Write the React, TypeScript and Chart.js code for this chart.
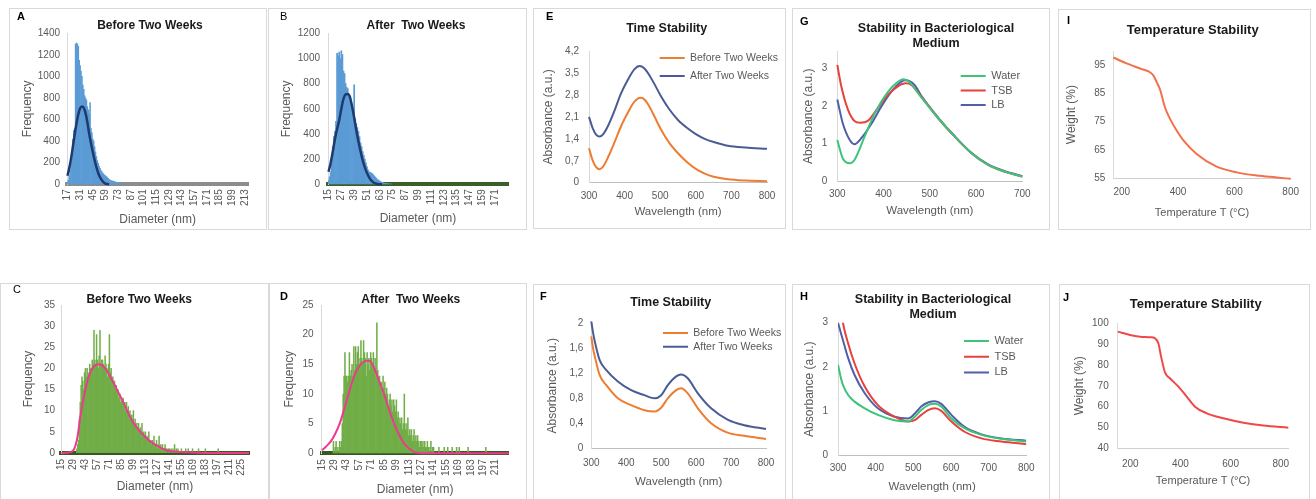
import React, { useEffect, useRef } from 'react';
import { Chart, registerables } from 'chart.js';

Chart.register(...registerables);

const FONT = "'Liberation Sans', Arial, Helvetica, sans-serif";
const GREY = '#595959';

// ---------- A : Before Two Weeks (histogram) ----------
const A_START = 17;
const A_FREQ = [20, 40, 80, 130, 200, 300, 420, 500, 520, 1300, 1310, 1300, 1280, 1150, 1100, 1050, 1000, 920, 880, 820, 800, 780, 720, 690, 650, 757, 520, 480, 420, 400, 350, 300, 256, 220, 195, 170, 148, 130, 115, 105, 95, 85, 78, 71, 62, 55, 46, 40, 36, 32, 29, 27, 25, 20, 16, 13, 11, 9, 8, 6, 5, 4, 3, 2];
const A_FIT_X = [17, 19, 21, 23, 25, 27, 29, 31, 33, 35, 37, 39, 41, 43, 45, 47, 49, 51, 53, 55, 57, 59, 61, 63];
const A_FIT_Y = [80, 150, 240, 350, 460, 565, 650, 705, 722, 710, 660, 575, 470, 380, 300, 225, 160, 105, 65, 38, 18, 7, 2, 0];
const A_XTICKS = [17, 31, 45, 59, 73, 87, 101, 115, 129, 143, 157, 171, 185, 199, 213];
const A_YTICKS = [0, 200, 400, 600, 800, 1000, 1200, 1400];

// ---------- B : After Two Weeks (histogram) ----------
const B_START = 15;
const B_FREQ = [30, 60, 100, 200, 300, 380, 420, 500, 1040, 1020, 1050, 1000, 1060, 1030, 900, 880, 800, 770, 760, 700, 690, 650, 640, 600, 790, 520, 480, 450, 420, 380, 330, 300, 260, 230, 200, 170, 140, 115, 100, 95, 90, 85, 75, 65, 55, 45, 38, 32, 26, 20, 16, 12, 10, 8, 6, 5, 4, 3, 2, 1];
const B_FIT_X = [15, 17, 19, 21, 23, 25, 27, 29, 31, 33, 35, 37, 39, 41, 43, 45, 47, 49, 51, 53, 55, 57, 59, 61, 63, 65];
const B_FIT_Y = [100, 170, 260, 360, 440, 510, 600, 680, 715, 718, 695, 620, 530, 430, 340, 260, 190, 135, 90, 55, 30, 15, 7, 3, 1, 0];
const B_XTICKS = [15, 27, 39, 51, 63, 75, 87, 99, 111, 123, 135, 147, 159, 171];
const B_YTICKS = [0, 200, 400, 600, 800, 1000, 1200];

// ---------- C : Before Two Weeks (histogram) ----------
const C_START = 33;
const C_FREQ = [
  1, 2, 3, 8, 12, 16, 18, 17, 15, 19,
  20, 18, 20, 19, 17, 21, 20, 19, 22, 21,
  29, 22, 21, 28, 22, 20, 23, 29, 21, 22,
  22, 21, 20, 23, 21, 20, 18, 21, 28, 19,
  20, 17, 18, 16, 17, 15, 16, 14, 15, 13,
  14, 12, 13, 12, 13, 11, 12, 10, 12, 10,
  11, 9, 10, 8, 9, 8, 10, 7, 8, 6,
  7, 6, 7, 5, 6, 5, 7, 4, 5, 4,
  5, 3, 4, 3, 5, 3, 3, 2, 3, 2,
  4, 2, 2, 3, 1, 2, 4, 1, 2, 1,
  2, 1, 1, 2, 1, 1, 0, 1, 1, 0,
  1, 0, 1, 0, 2, 0, 1, 0, 1, 0,
  0, 0, 1, 0, 0, 0, 0, 1, 0, 0,
  1, 0, 0, 0, 0, 1, 0, 0, 0, 0,
  0, 0, 1, 0, 0, 0, 0, 0, 0, 0,
  1, 0, 0, 0, 0, 0, 0, 0, 0, 0,
  0, 0, 0, 0, 0, 1,
];
const C_FIT_X = [15, 22, 27, 30, 33, 35, 37, 40, 43, 46, 49, 53, 58, 62, 66, 70, 76, 81, 86, 91, 97, 103, 109, 117, 125, 132, 140, 150, 163, 175, 190, 234];
const C_FIT_Y = [0, 0.1, 0.3, 1, 3, 5.5, 8.6, 12, 15, 17.5, 19.2, 20.5, 21, 20.8, 20, 18.8, 16.5, 14.5, 12.5, 10.3, 7.8, 6, 4.6, 3, 1.9, 1.1, 0.55, 0.3, 0.15, 0.05, 0, 0];
const C_XTICKS = [15, 29, 43, 57, 71, 85, 99, 113, 127, 141, 155, 169, 183, 197, 211, 225];
const C_YTICKS = [0, 5, 10, 15, 20, 25, 30, 35];

// ---------- D : After Two Weeks (histogram) ----------
const D_START = 27;
const D_FREQ = [
  0, 2, 0, 1, 2, 0, 1, 0, 2, 1, 2, 5,
  10, 13, 17, 13, 13, 12, 13, 17, 13, 14,
  15, 13, 18, 14, 18, 15, 17, 18, 15, 16,
  19, 16, 15, 19, 17, 16, 13, 17, 15, 16,
  14, 17, 16, 15, 17, 14, 16, 13, 22, 14,
  12, 13, 11, 12, 10, 13, 11, 12, 10, 11,
  10, 8, 9, 10, 8, 9, 7, 9, 8, 7,
  9, 6, 7, 5, 6, 5, 6, 4, 5, 10,
  4, 5, 4, 6, 3, 4, 3, 4, 2, 3,
  4, 2, 3, 2, 3, 2, 1, 2, 2, 1,
  2, 1, 2, 1, 1, 2, 1, 0, 1, 2,
  0, 1, 1, 0, 0, 0, 0, 0, 1, 0,
  0, 0, 0, 0, 1, 0, 0, 0, 1, 0,
  0, 0, 0, 1, 0, 0, 0, 0, 1, 0,
  0, 1, 0, 0, 0, 0, 0, 0, 0, 0,
  0, 1, 0, 0, 0, 0, 0, 0, 0, 0,
  0, 0, 0, 0, 0, 0, 0, 0, 0, 0,
  0, 1,
];
const D_FIT_X = [15, 20, 25, 30, 35, 40, 45, 50, 55, 60, 65, 68, 72, 76, 80, 85, 90, 95, 100, 105, 110, 115, 120, 125, 130, 226];
const D_FIT_Y = [0.5, 1.2, 2, 3.3, 5, 7.4, 10, 12.4, 14.2, 15.2, 15.6, 15.6, 15, 13.6, 12, 10, 7.7, 5.6, 3.8, 2.3, 1.3, 0.6, 0.2, 0.05, 0, 0];
const D_XTICKS = [15, 29, 43, 57, 71, 85, 99, 113, 127, 141, 155, 169, 183, 197, 211];
const D_YTICKS = [0, 5, 10, 15, 20, 25];

// ---------- E : Time Stability ----------
const E_X_BEFORE = [300, 310, 320, 330, 340, 355, 372, 390, 410, 425, 438, 445, 452, 465, 480, 503, 525, 550, 575, 600, 625, 650, 690, 740, 800];
const E_Y_BEFORE = [1.1, 0.72, 0.5, 0.43, 0.52, 0.85, 1.3, 1.8, 2.25, 2.55, 2.69, 2.71, 2.69, 2.52, 2.2, 1.68, 1.28, 0.94, 0.66, 0.44, 0.29, 0.19, 0.11, 0.07, 0.05];
const E_X_AFTER = [300, 310, 320, 330, 340, 355, 370, 390, 410, 428, 442, 455, 470, 485, 503, 525, 550, 575, 600, 625, 650, 690, 740, 800];
const E_Y_AFTER = [2.1, 1.75, 1.53, 1.47, 1.55, 1.85, 2.25, 2.85, 3.3, 3.62, 3.72, 3.65, 3.42, 3.12, 2.74, 2.35, 2.0, 1.75, 1.55, 1.4, 1.3, 1.18, 1.12, 1.08];
const E_YTICKS = [0, 0.7, 1.4, 2.1, 2.8, 3.5, 4.2];
const WL_TICKS = [300, 400, 500, 600, 700, 800];

// ---------- F : Time Stability ----------
const F_X = [300, 305, 310, 324, 343, 376, 414, 452, 481, 500, 519, 543, 557, 576, 605, 643, 690, 738, 800];
const F_Y_BEFORE = [1.79, 1.6, 1.47, 1.17, 1.01, 0.8, 0.69, 0.61, 0.59, 0.65, 0.8, 0.93, 0.96, 0.88, 0.64, 0.4, 0.25, 0.2, 0.15];
const F_Y_AFTER = [2.03, 1.85, 1.71, 1.41, 1.25, 1.07, 0.93, 0.85, 0.8, 0.85, 1.01, 1.15, 1.18, 1.12, 0.88, 0.64, 0.46, 0.37, 0.31];
const F_YTICKS = [0, 0.4, 0.8, 1.2, 1.6, 2];

// ---------- G : Stability in Bacteriological Medium ----------
const G_X_WATER = [300, 312, 327, 337, 359, 381, 410, 431, 442, 453, 482, 518, 554, 590, 626, 662, 700];
const G_Y_WATER = [1.09, 0.6, 0.47, 0.56, 1.18, 1.8, 2.38, 2.64, 2.71, 2.66, 2.22, 1.67, 1.18, 0.74, 0.43, 0.25, 0.12];
const G_X_TSB = [300, 309, 323, 337, 350, 366, 388, 410, 431, 448, 460, 482, 518, 554, 590, 626, 662, 700];
const G_Y_TSB = [3.09, 2.5, 1.9, 1.6, 1.55, 1.6, 1.95, 2.3, 2.52, 2.6, 2.56, 2.24, 1.67, 1.18, 0.74, 0.43, 0.25, 0.12];
const G_X_LB = [300, 312, 327, 337, 352, 374, 395, 417, 438, 447, 467, 482, 518, 554, 590, 626, 662, 700];
const G_Y_LB = [2.17, 1.53, 1.09, 0.98, 1.14, 1.53, 1.98, 2.38, 2.64, 2.68, 2.56, 2.26, 1.69, 1.19, 0.75, 0.44, 0.26, 0.13];
const G_XTICKS = [300, 400, 500, 600, 700];
const G_YTICKS = [0, 1, 2, 3];

// ---------- H : Stability in Bacteriological Medium ----------
const H_X = [300, 309, 313, 327, 344, 371, 406, 450, 486, 504, 521, 539, 557, 574, 601, 636, 681, 734, 800];
const H_Y_WATER = [2.05, 1.71, 1.6, 1.37, 1.22, 1.07, 0.92, 0.8, 0.77, 0.88, 1.03, 1.14, 1.17, 1.11, 0.84, 0.62, 0.47, 0.38, 0.32];
const H_Y_TSB = [3.8, 3.25, 3.0, 2.53, 2.08, 1.56, 1.14, 0.88, 0.77, 0.8, 0.92, 1.03, 1.07, 1.01, 0.77, 0.54, 0.39, 0.32, 0.26];
const H_Y_LB = [3.0, 2.73, 2.61, 2.2, 1.82, 1.41, 1.07, 0.88, 0.84, 0.95, 1.11, 1.2, 1.23, 1.17, 0.92, 0.65, 0.48, 0.39, 0.34];
const H_YTICKS = [0, 1, 2, 3];

// ---------- I / J : Temperature Stability ----------
const I_X = [170, 217, 265, 295, 312, 325, 336, 353, 371, 395, 419, 466, 537, 608, 679, 750, 800];
const I_Y = [97.7, 95.6, 93.8, 92.8, 91.4, 88.8, 86.4, 80.2, 76.1, 71.9, 68.4, 63.6, 59.1, 57.1, 56.0, 55.3, 54.8];
const J_X = [150, 199, 239, 279, 299, 312, 323, 339, 358, 392, 425, 458, 505, 571, 651, 730, 830];
const J_Y = [96, 94.4, 93.6, 93.3, 92.8, 90.4, 84, 76.3, 73.6, 69.6, 64.8, 60, 56.8, 54.4, 52.3, 50.9, 49.9];
const T_XTICKS = [200, 400, 600, 800];
const I_YTICKS = [55, 65, 75, 85, 95];
const J_YTICKS = [40, 50, 60, 70, 80, 90, 100];

// ---------- colours ----------
const HIST_BLUE = '#5b9bd5';
const HIST_GREEN = '#70ad47';
const NAVY = '#1f3a6e';
const PINK = '#ec3b8e';
const ORANGE = '#ed7d31';
const SLATE = '#4b5c94';
const WATER = '#3cc47a';
const TSB = '#e8403a';
const LB = '#4f5fa8';

const lineDs = (label: string, xs: number[], ys: number[], color: string, width = 2, clip: any = 3) => ({
  type: 'line',
  label,
  data: xs.map((x, i) => ({ x, y: ys[i] })),
  borderColor: color,
  backgroundColor: color,
  borderWidth: width,
  pointRadius: 0,
  pointHoverRadius: 0,
  pointBorderWidth: width,
  pointBorderColor: color,
  pointBackgroundColor: color,
  cubicInterpolationMode: 'monotone',
  fill: false,
  clip,
  order: 0,
});

const barDs = (start: number, vals: number[], color: string) => ({
  type: 'bar',
  label: 'Frequency',
  data: vals.map((y, i) => ({ x: start + i, y })),
  backgroundColor: color,
  borderWidth: 0,
  barPercentage: 1,
  categoryPercentage: 1,
  order: 1,
});

const plainFmt = (v: any) => String(v);
const commaFmt = (v: any) => {
  const n = Number(v);
  return Number.isInteger(n) ? String(n) : n.toFixed(1).replace('.', ',');
};

// positions the title block and the in-plot legend after Chart.js has laid out the chart
const placer = {
  id: 'placer',
  afterLayout(chart: any, _args: any, opts: any) {
    if (!opts) return;
    const tb = chart.titleBlock;
    if (tb && opts.titleX != null) {
      tb.left = opts.titleX - 150;
      tb.right = opts.titleX + 150;
      tb.width = 300;
    }
    const lg = chart.legend;
    if (lg && opts.legend) {
      const L = opts.legend;
      lg.left = L.x - L.pad;
      lg.top = L.y - L.pad - L.size / 2;
      lg.right = lg.left + 230;
      lg.bottom = lg.top + 170;
    }
  },
};

const PANELS: any[] = [
  {
    id: 'A', kind: 'bar', box: [9, 8, 258, 222], plot: [67, 33.3, 248.3, 184.3],
    letter: { t: 'A', x: 17, y: 12, bold: true },
    title: { text: 'Before Two Weeks', x: 150, y: 26, size: 12 },
    yTitle: { text: 'Frequency', x: 28, size: 12 },
    xTitle: { text: 'Diameter (nm)', y: 220, size: 12 },
    x: { min: 16.5, max: 216.8, ticks: A_XTICKS, rotate: true, pad: 5, color: '#8c8c8c', width: 4 },
    y: { min: 0, max: 1400, ticks: A_YTICKS, pad: 7, fmt: plainFmt },
    datasets: [lineDs('Fit', A_FIT_X, A_FIT_Y, NAVY, 2.5), barDs(A_START, A_FREQ, HIST_BLUE)],
  },
  {
    id: 'B', kind: 'bar', box: [268, 8, 259, 222], plot: [328, 33.3, 508, 184.3],
    letter: { t: 'B', x: 280, y: 12, bold: false },
    title: { text: 'After  Two Weeks', x: 416, y: 26, size: 12 },
    yTitle: { text: 'Frequency', x: 286.3, size: 12 },
    xTitle: { text: 'Diameter (nm)', y: 218.3, size: 12 },
    x: { min: 14.5, max: 183, ticks: B_XTICKS, rotate: true, pad: 5, color: '#3a5f27', width: 4 },
    y: { min: 0, max: 1200, ticks: B_YTICKS, pad: 8, fmt: plainFmt },
    datasets: [lineDs('Fit', B_FIT_X, B_FIT_Y, NAVY, 2.5), barDs(B_START, B_FREQ, HIST_BLUE)],
  },
  {
    id: 'E', kind: 'line', box: [533, 8, 253, 221], plot: [589, 51, 767, 182.7],
    letter: { t: 'E', x: 546, y: 12, bold: true },
    title: { text: 'Time Stability', x: 666.7, y: 28.3, size: 12.5 },
    yTitle: { text: 'Absorbance (a.u.)', x: 548.7, size: 12 },
    xTitle: { text: 'Wavelength (nm)', y: 211.7, size: 11.5 },
    x: { min: 300, max: 800, ticks: WL_TICKS, rotate: false, pad: 8, color: '#bfbfbf', width: 1 },
    y: { min: 0, max: 4.2, ticks: E_YTICKS, pad: 10, fmt: commaFmt },
    legend: { x: 659.7, y: 58, gap: 18, size: 10.5 },
    datasets: [
      lineDs('Before Two Weeks', E_X_BEFORE, E_Y_BEFORE, ORANGE),
      lineDs('After Two Weeks', E_X_AFTER, E_Y_AFTER, SLATE),
    ],
  },
  {
    id: 'G', kind: 'line', box: [792, 8, 258, 222], plot: [837.3, 51.4, 1022.3, 181],
    letter: { t: 'G', x: 800, y: 17, bold: true },
    title: { text: ['Stability in Bacteriological', 'Medium'], x: 936, y: 28.3, size: 12.5 },
    yTitle: { text: 'Absorbance (a.u.)', x: 808.7, size: 12 },
    xTitle: { text: 'Wavelength (nm)', y: 210.7, size: 11.5 },
    x: { min: 300, max: 700, ticks: G_XTICKS, rotate: false, pad: 7, color: '#bfbfbf', width: 1 },
    y: { min: 0, max: 3.45, ticks: G_YTICKS, pad: 10, fmt: plainFmt },
    legend: { x: 960.7, y: 76, gap: 14.5, size: 11 },
    datasets: [
      lineDs('Water', G_X_WATER, G_Y_WATER, WATER),
      lineDs('TSB', G_X_TSB, G_Y_TSB, TSB),
      lineDs('LB', G_X_LB, G_Y_LB, LB),
    ],
  },
  {
    id: 'I', kind: 'line', box: [1058, 9, 253, 221], plot: [1113.3, 51, 1290.7, 178.3],
    letter: { t: 'I', x: 1067, y: 16, bold: true },
    title: { text: 'Temperature Stability', x: 1192.7, y: 30, size: 13 },
    yTitle: { text: 'Weight (%)', x: 1071.7, size: 12 },
    xTitle: { text: 'Temperature T (°C)', y: 213.3, size: 11 },
    x: { min: 170, max: 800, ticks: T_XTICKS, rotate: false, pad: 8, color: '#d0d0d0', width: 1 },
    y: { min: 55, max: 100, ticks: I_YTICKS, pad: 8, fmt: plainFmt },
    datasets: [lineDs('Weight', I_X, I_Y, '#f2704a')],
  },
  {
    id: 'C', kind: 'bar', box: [0, 283, 269, 220], plot: [61, 305, 249, 453],
    letter: { t: 'C', x: 13, y: 285, bold: false },
    title: { text: 'Before Two Weeks', x: 139.2, y: 300, size: 12 },
    yTitle: { text: 'Frequency', x: 28.3, size: 12 },
    xTitle: { text: 'Diameter (nm)', y: 486.7, size: 12 },
    x: { min: 14.5, max: 233.9, ticks: C_XTICKS, rotate: true, pad: 6, color: '#385723', width: 4 },
    y: { min: 0, max: 35, ticks: C_YTICKS, pad: 6, fmt: plainFmt },
    datasets: [lineDs('Fit', C_FIT_X, C_FIT_Y, PINK, 2), barDs(C_START, C_FREQ, HIST_GREEN)],
  },
  {
    id: 'D', kind: 'bar', box: [269, 283, 258, 220], plot: [321.5, 305, 508.7, 453.3],
    letter: { t: 'D', x: 280, y: 292, bold: true },
    title: { text: 'After  Two Weeks', x: 410.8, y: 300, size: 12 },
    yTitle: { text: 'Frequency', x: 289.7, size: 12 },
    xTitle: { text: 'Diameter (nm)', y: 489.3, size: 12 },
    x: { min: 14.5, max: 225.8, ticks: D_XTICKS, rotate: true, pad: 6, color: '#385723', width: 4 },
    y: { min: 0, max: 25, ticks: D_YTICKS, pad: 8, fmt: plainFmt },
    datasets: [lineDs('Fit', D_FIT_X, D_FIT_Y, PINK, 2), barDs(D_START, D_FREQ, HIST_GREEN)],
  },
  {
    id: 'F', kind: 'line', box: [533, 284, 253, 220], plot: [591.3, 323.3, 766, 448.3],
    letter: { t: 'F', x: 540, y: 292, bold: true },
    title: { text: 'Time Stability', x: 670.7, y: 302.7, size: 12.5 },
    yTitle: { text: 'Absorbance (a.u.)', x: 553, size: 12 },
    xTitle: { text: 'Wavelength (nm)', y: 481.7, size: 11.5 },
    x: { min: 300, max: 800, ticks: WL_TICKS, rotate: false, pad: 9, color: '#bfbfbf', width: 1 },
    y: { min: 0, max: 2, ticks: F_YTICKS, pad: 8, fmt: commaFmt },
    legend: { x: 663, y: 333, gap: 13.7, size: 10.5 },
    datasets: [
      lineDs('Before Two Weeks', F_X, F_Y_BEFORE, ORANGE),
      lineDs('After Two Weeks', F_X, F_Y_AFTER, SLATE),
    ],
  },
  {
    id: 'H', kind: 'line', box: [792, 284, 258, 220], plot: [838, 322.7, 1026.3, 455.7],
    letter: { t: 'H', x: 800, y: 292, bold: true },
    title: { text: ['Stability in Bacteriological', 'Medium'], x: 933, y: 300, size: 12.5 },
    yTitle: { text: 'Absorbance (a.u.)', x: 809.7, size: 12 },
    xTitle: { text: 'Wavelength (nm)', y: 487.3, size: 11.5 },
    x: { min: 300, max: 800, ticks: WL_TICKS, rotate: false, pad: 7, color: '#bfbfbf', width: 1 },
    y: { min: 0, max: 3, ticks: H_YTICKS, pad: 10, fmt: plainFmt },
    legend: { x: 964, y: 341, gap: 15.7, size: 11 },
    datasets: [
      lineDs('Water', H_X, H_Y_WATER, WATER, 2, 0),
      lineDs('TSB', H_X, H_Y_TSB, TSB, 2, 0),
      lineDs('LB', H_X, H_Y_LB, LB, 2, 0),
    ],
  },
  {
    id: 'J', kind: 'line', box: [1059, 284, 251, 220], plot: [1117.7, 323.3, 1288.3, 448.3],
    letter: { t: 'J', x: 1063, y: 293, bold: true },
    title: { text: 'Temperature Stability', x: 1195.7, y: 304, size: 13 },
    yTitle: { text: 'Weight (%)', x: 1079.3, size: 12 },
    xTitle: { text: 'Temperature T (°C)', y: 481, size: 11 },
    x: { min: 150, max: 830, ticks: T_XTICKS, rotate: false, pad: 10, color: '#d0d0d0', width: 1 },
    y: { min: 40, max: 100, ticks: J_YTICKS, pad: 9, fmt: plainFmt },
    datasets: [lineDs('Weight', J_X, J_Y, '#ef4848')],
  },
];

function geometry(s: any) {
  const cl = s.box[0] + 1;
  const ct = s.box[1] + 1;
  const cw = s.box[2] - 2;
  const ch = Math.min(s.box[1] + s.box[3] - 1, 499) - ct;
  return { cl, ct, cw, ch };
}

function buildConfig(s: any, g: any) {
  const { cl, ct, cw, ch } = g;
  const [x0, y0, x1, y1] = s.plot;
  const pr = cl + cw - x1;
  const yW = x0 - cl;
  const xH = ct + ch - y1;
  const nLines = Array.isArray(s.title.text) ? s.title.text.length : 1;
  const tLH = s.title.size * 1.2;
  const tTop = s.title.y - ct - tLH / 2;
  const tBottom = y0 - ct - tTop - tLH * nLines;
  const ytLH = s.yTitle.size * 1.2;
  const ytPad = s.yTitle.x - cl - ytLH / 2;
  const xtLH = s.xTitle.size * 1.2;
  const xtPad = ct + ch - s.xTitle.y - xtLH / 2;

  const zeroPads = (sc: any) => {
    sc.paddingLeft = 0;
    sc.paddingRight = 0;
    sc.paddingTop = 0;
    sc.paddingBottom = 0;
  };

  const lg = s.legend;
  const lgPad = lg ? lg.gap - lg.size : 0;

  return {
    type: s.kind,
    data: { datasets: s.datasets },
    plugins: [placer],
    options: {
      responsive: false,
      animation: false,
      devicePixelRatio: 1,
      events: [],
      layout: { padding: { left: 0, right: pr, top: 0, bottom: 0 }, autoPadding: false },
      plugins: {
        tooltip: { enabled: false },
        title: {
          display: true,
          text: s.title.text,
          color: '#1a1a1a',
          font: { family: FONT, size: s.title.size, weight: 'bold', lineHeight: 1.2 },
          padding: { top: tTop, bottom: tBottom },
        },
        legend: lg
          ? {
              display: true,
              position: 'chartArea',
              align: 'start',
              labels: {
                usePointStyle: true,
                pointStyle: 'line',
                pointStyleWidth: 25,
                boxHeight: lg.size,
                padding: lgPad,
                color: GREY,
                font: { family: FONT, size: lg.size },
              },
            }
          : { display: false },
        placer: {
          titleX: s.title.x - cl,
          legend: lg ? { x: lg.x - cl, y: lg.y - ct, pad: lgPad, size: lg.size } : null,
        },
      },
      scales: {
        x: {
          type: 'linear',
          min: s.x.min,
          max: s.x.max,
          offset: false,
          bounds: 'data',
          grid: { display: false, drawTicks: false },
          border: { display: true, color: s.x.color, width: s.x.width },
          ticks: {
            autoSkip: false,
            minRotation: s.x.rotate ? 90 : 0,
            maxRotation: s.x.rotate ? 90 : 0,
            padding: s.x.pad,
            color: GREY,
            font: { family: FONT, size: 10 },
            callback: plainFmt,
          },
          afterBuildTicks: (ax: any) => {
            ax.ticks = s.x.ticks.map((value: number) => ({ value }));
          },
          title: {
            display: true,
            text: s.xTitle.text,
            color: GREY,
            font: { family: FONT, size: s.xTitle.size, lineHeight: 1.2 },
            padding: { top: 0, bottom: xtPad },
          },
          afterFit: (sc: any) => {
            sc.height = xH;
            zeroPads(sc);
          },
        },
        y: {
          type: 'linear',
          min: s.y.min,
          max: s.y.max,
          bounds: 'data',
          grid: { display: false, drawTicks: false },
          border: { display: true, color: '#d9d9d9', width: 1 },
          ticks: {
            autoSkip: false,
            padding: s.y.pad,
            color: GREY,
            font: { family: FONT, size: 10 },
            callback: s.y.fmt,
          },
          afterBuildTicks: (ax: any) => {
            ax.ticks = s.y.ticks.map((value: number) => ({ value }));
          },
          title: {
            display: true,
            text: s.yTitle.text,
            color: GREY,
            font: { family: FONT, size: s.yTitle.size, lineHeight: 1.2 },
            padding: { top: ytPad, bottom: 0 },
          },
          afterFit: (sc: any) => {
            sc.width = yW;
            zeroPads(sc);
          },
        },
      },
    },
  };
}

function Panel({ spec }: { spec: any }) {
  const canvasRef = useRef<HTMLCanvasElement | null>(null);
  const g = geometry(spec);
  useEffect(() => {
    const chart = new Chart(canvasRef.current as HTMLCanvasElement, buildConfig(spec, g) as any);
    return () => chart.destroy();
  }, []);
  return (
    <>
      <div
        style={{
          position: 'absolute',
          left: spec.box[0],
          top: spec.box[1],
          width: spec.box[2],
          height: spec.box[3],
          border: '1px solid #d9d9d9',
          boxSizing: 'border-box',
        }}
      />
      <canvas
        ref={canvasRef}
        width={g.cw}
        height={g.ch}
        style={{ position: 'absolute', left: g.cl, top: g.ct, width: g.cw, height: g.ch }}
      />
      <span
        style={{
          position: 'absolute',
          left: spec.letter.x,
          top: spec.letter.y - 1.4,
          fontFamily: FONT,
          fontSize: 11,
          lineHeight: '11px',
          fontWeight: spec.letter.bold ? 'bold' : 'normal',
          color: '#000',
        }}
      >
        {spec.letter.t}
      </span>
    </>
  );
}

export default function App() {
  return (
    <div
      style={{
        position: 'absolute',
        left: 0,
        top: 0,
        width: 1316,
        height: 499,
        overflow: 'hidden',
        background: '#ffffff',
      }}
    >
      {PANELS.map((p) => (
        <Panel key={p.id} spec={p} />
      ))}
    </div>
  );
}
